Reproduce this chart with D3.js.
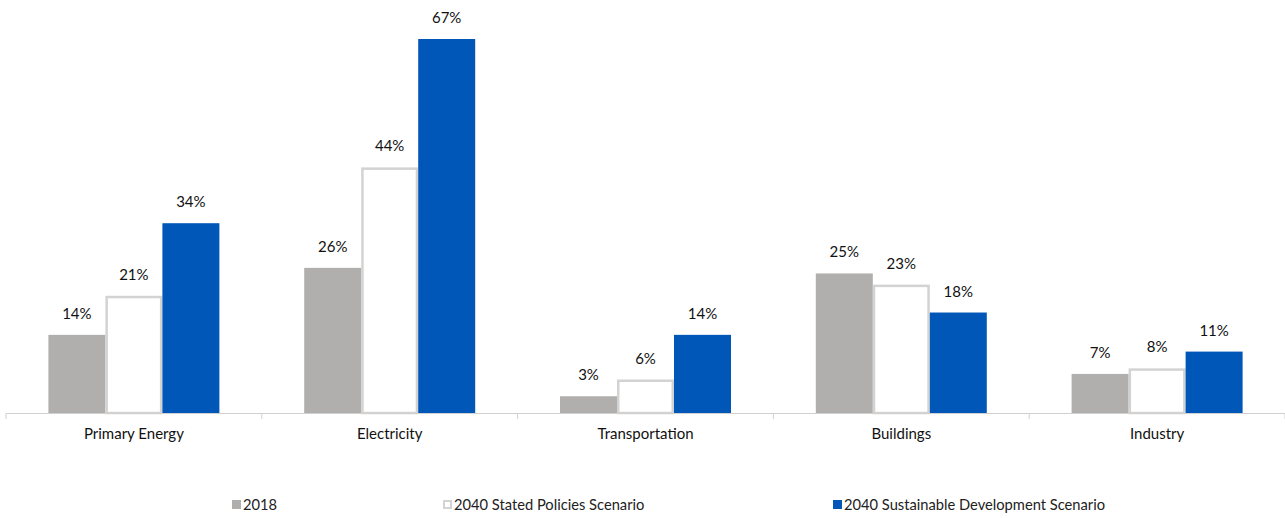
<!DOCTYPE html>
<html><head><meta charset="utf-8">
<script src="https://cdn.jsdelivr.net/npm/d3@7"></script>
<style>body{margin:0;background:#fff;}svg{display:block;font-family:Lato,"Open Sans",sans-serif;}</style>
</head><body><svg id="c" width="1285" height="518"></svg>
<script>
const categories = ["Primary Energy","Electricity","Transportation","Buildings","Industry"];
const seriesNames = ["2018","2040 Stated Policies Scenario","2040 Sustainable Development Scenario"];
const s2018 = [14,26,3,25,7];
const sStated = [21,44,6,23,8];
const sSDS = [34,67,14,18,11];
const seriesValues = [s2018, sStated, sSDS];
const colors = ["#b0afad","#ffffff","#0057b8"];
const strokes = ["none","#d3d3d3","none"];

const svg = d3.select("#c");
const x0 = d3.scaleBand().domain(categories).range([6,1285]).paddingInner(0).paddingOuter(0);
const x1 = d3.scaleBand().domain(d3.range(3)).range([0,x0.bandwidth()]).paddingOuter(0.744).paddingInner(0);
const y = d3.scaleLinear().domain([0,67]).range([413,39]);

const g = svg.append("g");
categories.forEach((c,i)=>{
  seriesValues.forEach((vals,j)=>{
    const v = vals[i];
    const bx = x0(c)+x1(j);
    const sw = strokes[j]==="none"?0:2.5;
    g.append("rect")
      .attr("x",bx+sw/2).attr("y",y(v)+sw/2)
      .attr("width",x1.bandwidth()-sw).attr("height",y(0)-y(v)-sw/2)
      .attr("fill",colors[j]).attr("stroke",strokes[j]).attr("stroke-width",sw);
    g.append("text").attr("x",bx+x1.bandwidth()/2).attr("y",y(v)-16)
      .attr("text-anchor","middle").attr("font-size",15).attr("fill","#111").text(v+"%");
  });
});
// axis
const ax = svg.append("g").attr("transform","translate(0,413)")
  .call(d3.axisBottom(x0).tickSize(0).tickPadding(15));
ax.select(".domain").attr("stroke","#d0d0d0");
ax.selectAll("text").attr("font-size",15).attr("fill","#111").attr("font-family","Lato,'Open Sans',sans-serif");
const bounds = categories.map(c=>x0(c)).concat([x0.range()[1]]);
svg.selectAll(".sep").data(bounds).join("line")
  .attr("x1",d=>d).attr("x2",d=>d).attr("y1",413).attr("y2",419)
  .attr("stroke","#d0d0d0");

// legend
const legX = [232,443,833];
seriesNames.forEach((n,j)=>{
  const lg = svg.append("g").attr("transform",`translate(${legX[j]},500)`);
  lg.append("rect").attr("x",j===1?1:0).attr("y",j===1?1:0).attr("width",j===1?7:9).attr("height",j===1?7:9)
    .attr("fill",colors[j]).attr("stroke",strokes[j]).attr("stroke-width",j===1?2:0);
  lg.append("text").attr("x",11).attr("y",10).attr("font-size",14.7).attr("fill","#222").text(n);
});
</script></body></html>
